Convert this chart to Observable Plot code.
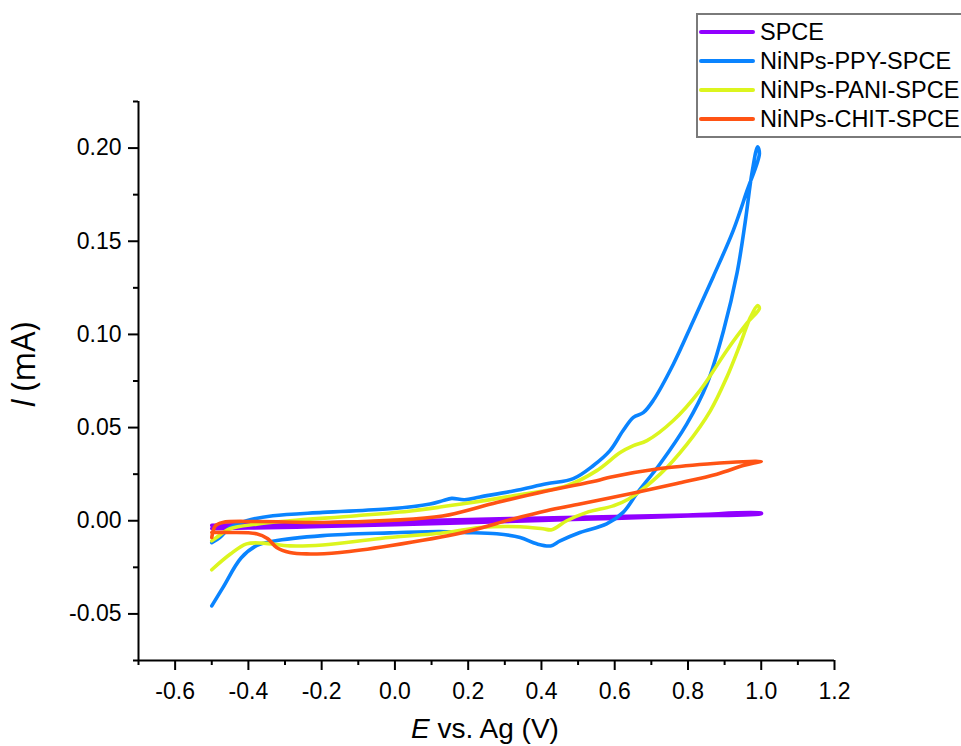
<!DOCTYPE html>
<html>
<head>
<meta charset="utf-8">
<script src="https://cdn.jsdelivr.net/npm/d3@7"></script>
<script src="https://cdn.jsdelivr.net/npm/@observablehq/plot@0.6"></script>
<style>
  html, body { margin: 0; padding: 0; background: #fff; }
  #chart { position: relative; width: 961px; height: 746px; overflow: hidden; }
</style>
</head>
<body>
<div id="chart"></div>
<script>
// ---- data ----
const seriesNames = ["SPCE", "NiNPs-PPY-SPCE", "NiNPs-PANI-SPCE", "NiNPs-CHIT-SPCE"];
const seriesColors = ["#9100ff", "#0a84ff", "#dcf51e", "#ff5314"];

const spceE = [-0.5, -0.4, -0.2, 0.0, 0.2, 0.4, 0.6, 0.8, 1.0, 1.0, 0.8, 0.6, 0.4, 0.2, 0.0, -0.2, -0.4, -0.5];
const spceI = [-0.0025, -0.0021, -0.0012, -0.0003, 0.0007, 0.0015, 0.0023, 0.0031, 0.0041, 0.0037, 0.0026, 0.0013, 0.0002, -0.0010, -0.0021, -0.0031, -0.0039, -0.0042];

const ppyE = [-0.5, -0.478, -0.45, -0.405, -0.333, -0.197, -0.014, 0.096, 0.131, 0.155, 0.19, 0.232, 0.323, 0.414, 0.487, 0.541, 0.587, 0.623, 0.651, 0.678, 0.705, 0.76, 0.815, 0.869, 0.924, 0.961, 0.995, 0.99,
  0.975, 0.956, 0.934, 0.897, 0.852, 0.797, 0.724, 0.66, 0.623, 0.578, 0.505, 0.451, 0.425, 0.387, 0.342, 0.278, 0.186, 0.123, -0.014, -0.197, -0.333, -0.378, -0.42, -0.47, -0.5];
const ppyI = [-0.0117, -0.009, -0.0036, 0.0, 0.0027, 0.0045, 0.0064, 0.009, 0.0108, 0.0120, 0.0113, 0.0128, 0.016, 0.0198, 0.0226, 0.0295, 0.0376, 0.0484, 0.0555, 0.058, 0.0645, 0.084, 0.1075, 0.131, 0.156, 0.177, 0.197, 0.2007,
  0.187, 0.16, 0.133, 0.102, 0.0735, 0.052, 0.0306, 0.0145, 0.0045, -0.0017, -0.0063, -0.0108, -0.0135, -0.0124, -0.009, -0.007, -0.0063, -0.0058, -0.0065, -0.008, -0.011, -0.0134, -0.020, -0.036, -0.0457];

const paniE = [-0.5, -0.487, -0.45, -0.378, -0.287, -0.105, 0.049, 0.186, 0.323, 0.469, 0.551, 0.615, 0.651, 0.688, 0.76, 0.833, 0.906, 0.961, 0.995, 0.99,
  0.97, 0.943, 0.906, 0.861, 0.797, 0.724, 0.637, 0.596, 0.524, 0.469, 0.428, 0.404, 0.342, 0.232, 0.141, -0.04, -0.197, -0.287, -0.36, -0.405, -0.45, -0.5];
const paniI = [-0.0108, -0.009, -0.0043, -0.0018, 0.0, 0.0027, 0.0054, 0.0091, 0.0134, 0.0188, 0.0269, 0.0366, 0.0403, 0.043, 0.0538, 0.07, 0.0914, 0.106, 0.114, 0.1155,
  0.109, 0.095, 0.077, 0.059, 0.041, 0.025, 0.0115, 0.008, 0.0045, 0.0, -0.0048, -0.0043, -0.0032, -0.0036, -0.0063, -0.0095, -0.013, -0.0135, -0.012, -0.0124, -0.018, -0.0263];

const chitE = [-0.5, -0.49, -0.47, -0.378, -0.197, -0.014, 0.13, 0.278, 0.414, 0.551, 0.587, 0.724, 0.861, 0.951, 1.0,
  0.98, 0.951, 0.879, 0.77, 0.642, 0.505, 0.414, 0.323, 0.186, -0.014, -0.15, -0.241, -0.287, -0.323, -0.347, -0.378, -0.45, -0.5];
const chitI = [-0.009, -0.0027, -0.0009, -0.0004, -0.0009, 0.0002, 0.0025, 0.0098, 0.016, 0.0215, 0.0233, 0.028, 0.0306, 0.0317, 0.0318,
  0.031, 0.0296, 0.025, 0.02, 0.0145, 0.009, 0.0054, 0.001, -0.0063, -0.0134, -0.017, -0.0178, -0.017, -0.0143, -0.0097, -0.007, -0.0063, -0.0063];

const xMajorTicks = [-0.6, -0.4, -0.2, 0.0, 0.2, 0.4, 0.6, 0.8, 1.0, 1.2];
const xMinorTicks = [-0.7, -0.5, -0.3, -0.1, 0.1, 0.3, 0.5, 0.7, 0.9, 1.1];
const yMajorTicks = [-0.05, 0.0, 0.05, 0.10, 0.15, 0.20];
const yMinorTicks = [-0.075, -0.025, 0.025, 0.075, 0.125, 0.175, 0.225];

const xTitleItalic = "E";
const xTitleRest = " vs. Ag (V)";
const yTitleItalic = "I";
const yTitleRest = " (mA)";

// ---- build table ----
const allE = [spceE, ppyE, paniE, chitE];
const allI = [spceI, ppyI, paniI, chitI];
const rows = [];
seriesNames.forEach((name, k) => {
  allE[k].forEach((e, i) => rows.push({series: name, E: e, I: allI[k][i]}));
});

const FONT = "'Liberation Sans', Arial, sans-serif";

const plot = Plot.plot({
  width: 961,
  height: 746,
  marginLeft: 138,
  marginRight: 127,
  marginTop: 101,
  marginBottom: 86,
  style: {fontFamily: FONT, fontSize: "23px", background: "#fff", color: "#000", overflow: "visible"},
  x: {domain: [-0.7, 1.2]},
  y: {domain: [-0.075, 0.225]},
  color: {domain: seriesNames, range: seriesColors},
  marks: [
    Plot.line(rows, {x: "E", y: "I", z: "series", stroke: "series", curve: "catmull-rom", strokeWidth: 3.6, strokeLinejoin: "round", strokeLinecap: "round"}),
    Plot.axisX({ticks: xMinorTicks, tickSize: 5, strokeWidth: 2, tickFormat: () => "", label: null}),
    Plot.axisX({ticks: xMajorTicks, tickSize: 10, tickPadding: 12, strokeWidth: 2, tickFormat: d => d.toFixed(1), label: null, fontSize: 23}),
    Plot.axisY({ticks: yMinorTicks, tickSize: 5, strokeWidth: 2, tickFormat: () => "", label: null}),
    Plot.axisY({ticks: yMajorTicks, tickSize: 10, tickPadding: 7, strokeWidth: 2, tickFormat: d => d.toFixed(2), label: null, fontSize: 23}),
    Plot.ruleY([-0.075], {strokeWidth: 2}),
    Plot.ruleX([-0.7], {strokeWidth: 2})
  ]
});

document.getElementById("chart").appendChild(plot);

// ---- titles & legend drawn into the SVG ----
const svg = d3.select(plot);

const xt = svg.append("text")
  .attr("x", 485).attr("y", 738)
  .attr("text-anchor", "middle")
  .attr("font-family", FONT).attr("font-size", 28).attr("fill", "#000");
xt.append("tspan").attr("font-style", "italic").text(xTitleItalic);
xt.append("tspan").text(xTitleRest);

const yt = svg.append("text")
  .attr("transform", "translate(35,365) rotate(-90)")
  .attr("text-anchor", "middle")
  .attr("font-family", "'Open Sans', " + FONT).attr("font-size", 32).attr("fill", "#000");
yt.append("tspan").attr("font-style", "italic").text(yTitleItalic);
yt.append("tspan").text(yTitleRest);

const lg = svg.append("g");
lg.append("rect")
  .attr("x", 697).attr("y", 14).attr("width", 300).attr("height", 123)
  .attr("fill", "#fff").attr("stroke", "#7a7a7a").attr("stroke-width", 2);
seriesNames.forEach((name, i) => {
  const cy = 32 + i * 29;
  lg.append("line")
    .attr("x1", 701).attr("x2", 753).attr("y1", cy).attr("y2", cy)
    .attr("stroke", seriesColors[i]).attr("stroke-width", 4).attr("stroke-linecap", "round");
  lg.append("text")
    .attr("x", 760).attr("y", cy).attr("dy", "0.35em")
    .attr("text-anchor", "start")
    .attr("font-family", FONT).attr("font-size", 23.5).attr("fill", "#000")
    .text(name);
});
</script>
</body>
</html>
